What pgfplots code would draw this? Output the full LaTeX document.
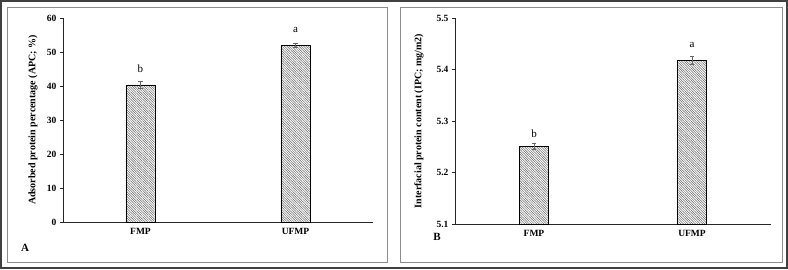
\documentclass[border=0pt]{standalone}
\usepackage{pgfplots}
\pgfplotsset{compat=1.18}
\usepackage{fontspec}
\setmainfont{Liberation Serif}
\usetikzlibrary{patterns.meta}
\pgfplotsset{
  mybar/.style={
    scale only axis,
    anchor=south west,
    axis x line*=bottom,
    axis y line*=left,
    axis line style={black!85, line width=0.6pt},
    xmin=0.5, xmax=2.5,
    xtick={1,2}, xticklabels={FMP,UFMP},
    x tick style={draw=none},
    y tick style={black!85, line width=0.6pt},
    tick align=outside,
    major tick length=3pt,
    ticklabel style={font=\bfseries\fontsize{9.5}{10}\selectfont},
    /pgf/number format/assume math mode=true,
    label style={font=\bfseries\fontsize{10}{11}\selectfont},
    ybar, bar width=29pt,
    clip=false,
  },
  barsty/.style={
    draw=black, line width=0.7pt, fill=white,
    postaction={pattern={Lines[angle=-45,distance=1.7pt,line width=0.5pt]}, pattern color=black!60},
    error bars/.cd, y dir=both, y explicit,
    error bar style={black!60, line width=0.6pt},
    error mark options={rotate=90, mark size=2.2pt, black!60, line width=0.6pt},
  },
}
\begin{document}
\begin{tikzpicture}[x=1pt,y=1pt]
\useasboundingbox (0,0) rectangle (788,269);
\draw[line width=1.1pt, black!75] (1,1) rectangle (787,268);
\draw[line width=0.6pt, black!45] (7,7) rectangle (387,262);
\draw[line width=0.6pt, black!45] (400,7) rectangle (782,262);
\begin{axis}[mybar,
  at={(63pt,47pt)}, width=310pt, height=204pt,
  ymin=0, ymax=60, ytick={0,10,...,60},
  ylabel={Adsorbed protein percentage (APC; \%)},
  ylabel style={at={(axis description cs:-0.097,0.5)}, anchor=center},
]
\addplot[barsty] coordinates {(1,40.3) +- (0,1.0) (2,52.0) +- (0,0.7)};
\node[font=\fontsize{11}{12}\selectfont] at (axis cs:1,45.2) {b};
\node[font=\fontsize{11}{12}\selectfont] at (axis cs:2,56.6) {a};
\end{axis}
\node[font=\bfseries\fontsize{11}{12}\selectfont] at (25,21) {A};
\begin{axis}[mybar,
  at={(455pt,45pt)}, width=316pt, height=206pt,
  ymin=5.1, ymax=5.5, ytick={5.1,5.2,5.3,5.4,5.5},
  yticklabel style={/pgf/number format/.cd, fixed, fixed zerofill, precision=1},
  ylabel={Interfacial protein content (IPC; mg/m2)},
  ylabel style={at={(axis description cs:-0.114,0.5)}, anchor=center},
]
\addplot[barsty] coordinates {(1,5.251) +- (0,0.005) (2,5.418) +- (0,0.007)};
\node[font=\fontsize{11}{12}\selectfont] at (axis cs:1,5.276) {b};
\node[font=\fontsize{11}{12}\selectfont] at (axis cs:2,5.448) {a};
\end{axis}
\node[font=\bfseries\fontsize{11}{12}\selectfont] at (437,32) {B};
\end{tikzpicture}
\end{document}
